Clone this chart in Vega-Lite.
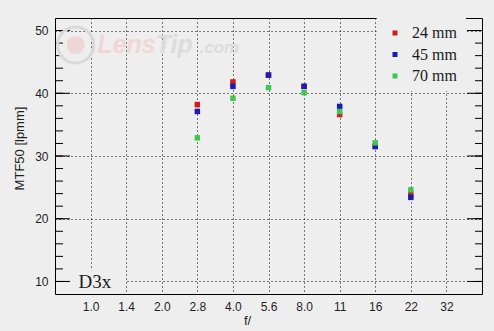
{
  "$schema": "https://vega.github.io/schema/vega-lite/v6.json",
  "width": 427,
  "height": 276,
  "autosize": {"type": "none"},
  "padding": {"left": 55, "top": 18, "right": 12, "bottom": 37},
  "background": "#eeeeee",
  "config": {
    "view": {"stroke": "#000000", "strokeWidth": 1, "fill": null},
    "axis": {"labelFont": "Liberation Sans", "titleFont": "Liberation Sans", "labelColor": "#1e1e1e", "titleColor": "#1e1e1e", "titleFontWeight": "normal"}
  },
  "datasets": {
    "mtf": [
      {"f": "2.8", "i": 3, "lens": "24 mm", "mtf": 38.2},
      {"f": "4.0", "i": 4, "lens": "24 mm", "mtf": 41.8},
      {"f": "5.6", "i": 5, "lens": "24 mm", "mtf": 42.9},
      {"f": "8.0", "i": 6, "lens": "24 mm", "mtf": 41.1},
      {"f": "11", "i": 7, "lens": "24 mm", "mtf": 36.6},
      {"f": "16", "i": 8, "lens": "24 mm", "mtf": 31.6},
      {"f": "22", "i": 9, "lens": "24 mm", "mtf": 23.9},
      {"f": "2.8", "i": 3, "lens": "45 mm", "mtf": 37.1},
      {"f": "4.0", "i": 4, "lens": "45 mm", "mtf": 41.1},
      {"f": "5.6", "i": 5, "lens": "45 mm", "mtf": 42.9},
      {"f": "8.0", "i": 6, "lens": "45 mm", "mtf": 41.1},
      {"f": "11", "i": 7, "lens": "45 mm", "mtf": 37.9},
      {"f": "16", "i": 8, "lens": "45 mm", "mtf": 31.5},
      {"f": "22", "i": 9, "lens": "45 mm", "mtf": 23.4},
      {"f": "2.8", "i": 3, "lens": "70 mm", "mtf": 32.9},
      {"f": "4.0", "i": 4, "lens": "70 mm", "mtf": 39.2},
      {"f": "5.6", "i": 5, "lens": "70 mm", "mtf": 40.9},
      {"f": "8.0", "i": 6, "lens": "70 mm", "mtf": 40.1},
      {"f": "11", "i": 7, "lens": "70 mm", "mtf": 37.1},
      {"f": "16", "i": 8, "lens": "70 mm", "mtf": 32.1},
      {"f": "22", "i": 9, "lens": "70 mm", "mtf": 24.6}
    ],
    "ticks": [
      {"v": 10}, {"v": 12}, {"v": 14}, {"v": 16}, {"v": 18},
      {"v": 20}, {"v": 22}, {"v": 24}, {"v": 26}, {"v": 28},
      {"v": 30}, {"v": 32}, {"v": 34}, {"v": 36}, {"v": 38},
      {"v": 40}, {"v": 42}, {"v": 44}, {"v": 46}, {"v": 48}, {"v": 50}
    ]
  },
  "layer": [
    {
      "data": {"values": [{}]},
      "mark": {"type": "rect", "fill": "#eeeeee"},
      "encoding": {
        "x": {"datum": 8.04, "type": "quantitative"},
        "x2": {"datum": 10.55},
        "y": {"datum": 52, "type": "quantitative", "axis": null},
        "y2": {"datum": 40.35}
      }
    },
    {
      "data": {"values": [{}]},
      "mark": {"type": "rect", "fill": "#eeeeee"},
      "encoding": {
        "x": {"datum": -0.56, "type": "quantitative"},
        "x2": {"datum": 0.97},
        "y": {"datum": 8, "type": "quantitative", "axis": null},
        "y2": {"datum": 11.8}
      }
    },
    {
      "data": {"name": "ticks"},
      "transform": [{"filter": "datum.v % 10 === 0"}],
      "mark": {"type": "rule", "color": "#000000", "strokeWidth": 1},
      "encoding": {
        "x": {"datum": -1, "type": "quantitative"},
        "x2": {"datum": -0.578},
        "y": {"field": "v", "type": "quantitative", "axis": null}
      }
    },
    {
      "data": {"name": "ticks"},
      "mark": {"type": "rule", "color": "#000000", "strokeWidth": 1},
      "encoding": {
        "x": {"datum": -1, "type": "quantitative"},
        "x2": {"datum": -0.775},
        "y": {"field": "v", "type": "quantitative", "axis": null}
      }
    },
    {
      "data": {"name": "ticks"},
      "transform": [{"filter": "datum.v % 10 === 0"}],
      "mark": {"type": "rule", "color": "#000000", "strokeWidth": 1},
      "encoding": {
        "x": {"datum": 10.578, "type": "quantitative"},
        "x2": {"datum": 11},
        "y": {"field": "v", "type": "quantitative", "axis": null}
      }
    },
    {
      "data": {"name": "ticks"},
      "mark": {"type": "rule", "color": "#000000", "strokeWidth": 1},
      "encoding": {
        "x": {"datum": 10.803, "type": "quantitative"},
        "x2": {"datum": 11},
        "y": {"field": "v", "type": "quantitative", "axis": null}
      }
    },
    {
      "data": {"values": [{}]},
      "mark": {"type": "point", "shape": "circle", "filled": false, "stroke": "#d9d9d9", "strokeWidth": 3, "size": 1300, "opacity": 1},
      "encoding": {
        "x": {"datum": -0.42, "type": "quantitative"},
        "y": {"datum": 47.7, "type": "quantitative", "axis": null}
      }
    },
    {
      "data": {"values": [{}]},
      "mark": {"type": "point", "shape": "circle", "filled": true, "fill": "#eed6d6", "strokeWidth": 0, "size": 330, "opacity": 1},
      "encoding": {
        "x": {"datum": -0.42, "type": "quantitative"},
        "y": {
          "datum": 47.7,
          "type": "quantitative",
          "axis": {"orient": "left", "values": [10, 20, 30, 40, 50], "ticks": false, "labels": false, "domain": false, "grid": true, "gridColor": "#000000", "gridDash": [1, 3], "gridOpacity": 1, "title": null}
        }
      }
    },
    {
      "data": {"values": [{}]},
      "mark": {"type": "text", "text": "Lens", "font": "Liberation Sans", "fontSize": 25, "fontWeight": "bold", "fontStyle": "italic", "color": "#efd7d7", "align": "right", "baseline": "alphabetic"},
      "encoding": {
        "x": {"datum": 1.83, "type": "quantitative"},
        "y": {"datum": 46.4, "type": "quantitative", "axis": null}
      }
    },
    {
      "data": {"values": [{}]},
      "mark": {"type": "text", "text": "Tip", "font": "Liberation Sans", "fontSize": 25, "fontWeight": "bold", "fontStyle": "italic", "color": "#dcdcdc", "align": "left", "baseline": "alphabetic"},
      "encoding": {
        "x": {"datum": 1.83, "type": "quantitative"},
        "y": {"datum": 46.4, "type": "quantitative", "axis": null}
      }
    },
    {
      "data": {"values": [{}]},
      "mark": {"type": "text", "text": ".com", "font": "Liberation Sans", "fontSize": 17, "fontWeight": "bold", "fontStyle": "italic", "color": "#dcdcdc", "align": "left", "baseline": "alphabetic"},
      "encoding": {
        "x": {"datum": 3.06, "type": "quantitative"},
        "y": {"datum": 46.4, "type": "quantitative", "axis": null}
      }
    },
    {
      "data": {"name": "mtf"},
      "mark": {"type": "point", "shape": "square", "filled": true, "opacity": 1, "size": 30, "strokeWidth": 0},
      "encoding": {
        "x": {
          "field": "i",
          "type": "quantitative",
          "scale": {"domain": [-1, 11], "nice": false, "zero": false},
          "axis": {
            "orient": "bottom",
            "values": [0, 1, 2, 3, 4, 5, 6, 7, 8, 9, 10],
            "labelExpr": "['1.0','1.4','2.0','2.8','4.0','5.6','8.0','11','16','22','32'][datum.value]",
            "ticks": false,
            "domain": false,
            "grid": true,
            "gridColor": "#000000",
            "gridDash": [1, 3],
            "gridOpacity": 1,
            "labelFontSize": 12,
            "labelPadding": 7,
            "title": "f/",
            "titleFontSize": 13,
            "titlePadding": 2,
            "titleX": 192,
            "titleAlign": "center"
          }
        },
        "y": {
          "field": "mtf",
          "type": "quantitative",
          "scale": {"domain": [8, 52], "nice": false, "zero": false},
          "axis": {
            "orient": "left",
            "values": [10, 20, 30, 40, 50],
            "ticks": false,
            "labelPadding": 7,
            "labelFontSize": 12,
            "domain": false,
            "grid": false,
            "title": "MTF50 [lpmm]",
            "titleFontSize": 13,
            "titlePadding": 8,
            "titleY": 130
          }
        },
        "color": {
          "field": "lens",
          "type": "nominal",
          "scale": {"domain": ["24 mm", "45 mm", "70 mm"], "range": ["#d41a1a", "#1a1ab8", "#3cc850"]},
          "legend": {
            "title": null,
            "orient": "none",
            "legendX": 332,
            "legendY": 7,
            "padding": 0,
            "symbolType": "square",
            "symbolSize": 25,
            "symbolStrokeWidth": 0,
            "labelFont": "Liberation Serif",
            "labelFontSize": 16,
            "labelColor": "#1a1a1a",
            "labelOffset": 9,
            "rowPadding": 5.5
          }
        }
      }
    },
    {
      "data": {"values": [{}]},
      "mark": {"type": "text", "text": "D3x", "font": "Liberation Serif", "fontSize": 19, "color": "#1a1a1a", "align": "left", "baseline": "alphabetic"},
      "encoding": {
        "x": {"datum": -0.34, "type": "quantitative"},
        "y": {"datum": 8.93, "type": "quantitative", "axis": null}
      }
    }
  ],
  "resolve": {"axis": {"y": "independent"}}
}
